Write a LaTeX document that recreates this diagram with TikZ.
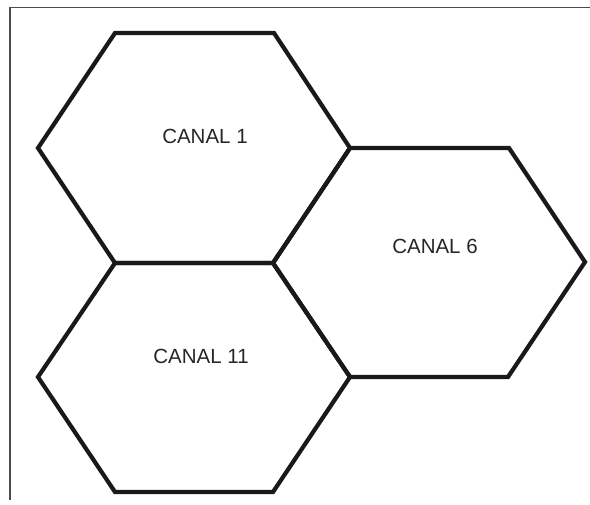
\documentclass[tikz,border=0pt]{standalone}
\usepackage{fontspec}
\setmainfont{Liberation Sans}
\begin{document}
\begin{tikzpicture}[x=1pt,y=-1pt,
  cell/.style={draw=black!90, line width=4.2pt, line join=miter},
  frame/.style={draw=black!70, line width=1.4pt},
  label/.style={font=\fontsize{20.5}{24}\selectfont, text=black!85, inner sep=0pt}]
  \useasboundingbox (0,0) rectangle (590,505);
  % page frame (top and left edges only)
  \draw[frame] (590,7.5) -- (10,7.5) -- (10,500);
  % three hexagonal cells
  \draw[cell] (115,33) -- (274,33) -- (350,148) -- (273,263) -- (115,263) -- (38,148) -- cycle;
  \draw[cell] (350,148) -- (509,148) -- (585,262) -- (508,377) -- (350,377) -- (273,263) -- cycle;
  \draw[cell] (115,263) -- (273,263) -- (350,377) -- (273,492) -- (115,492) -- (38,377) -- cycle;
  % channel labels
  \node[label] (c1) at (205,136) {CANAL 1};
  \node[label] (c6) at (435,246) {CANAL 6};
  \node[label] (c11) at (201,356) {CANAL 11};
\end{tikzpicture}
\end{document}
